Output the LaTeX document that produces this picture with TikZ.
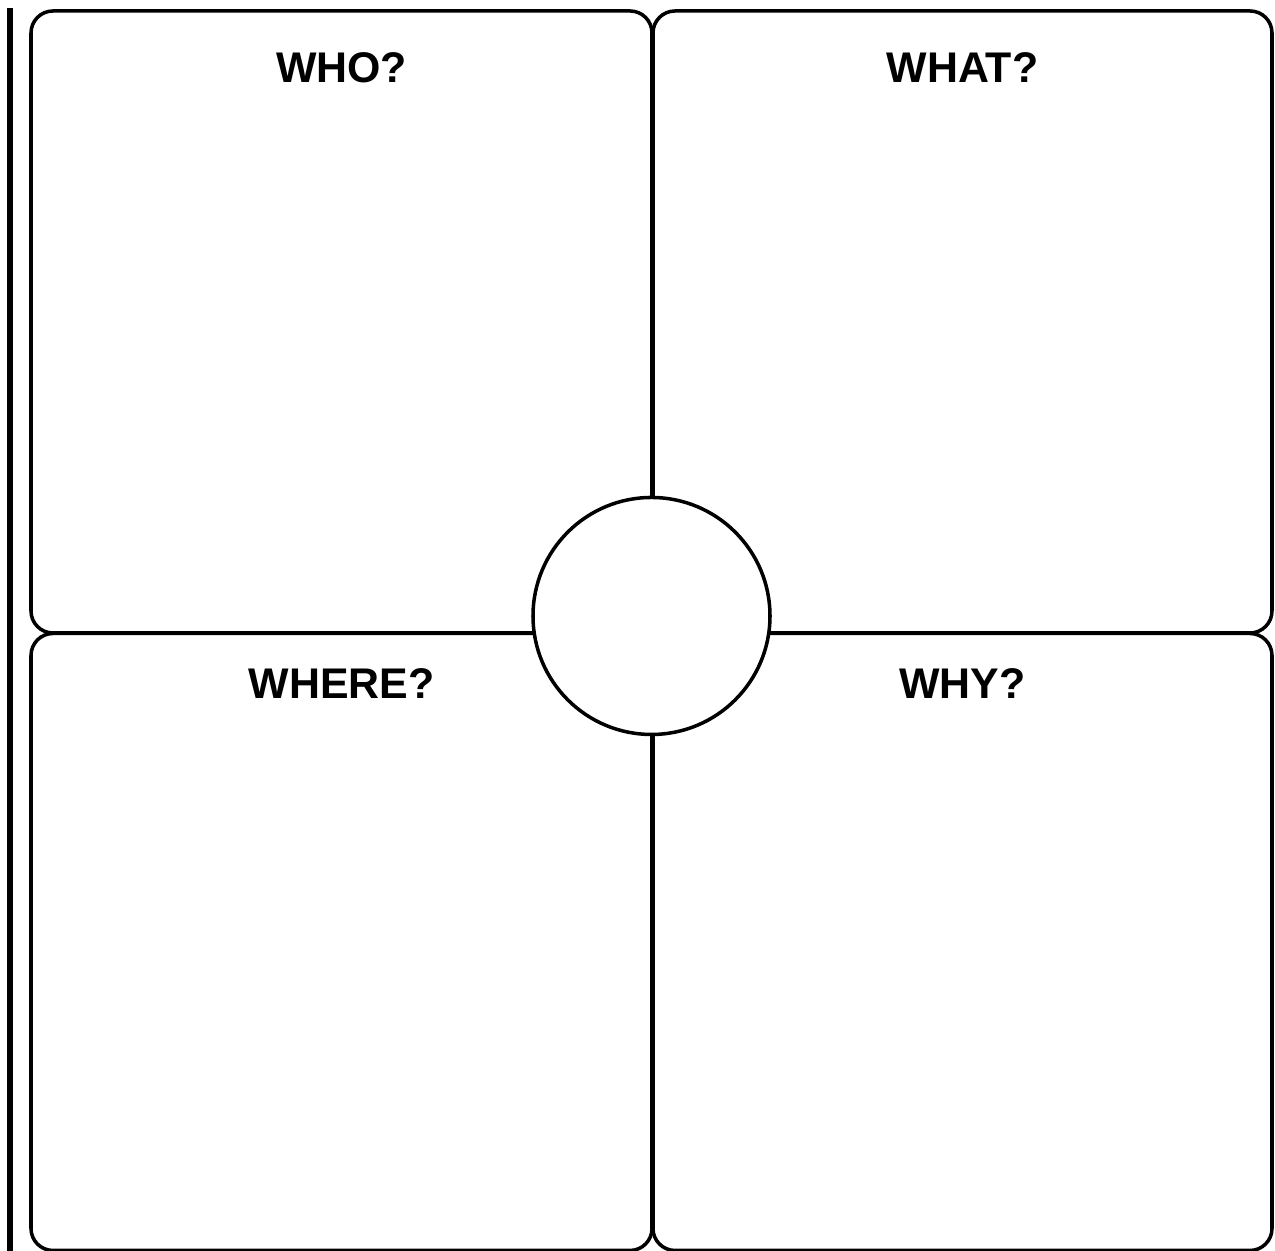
\documentclass[tikz,border=0pt]{standalone}
\usepackage{fontspec}
\setmainfont{Liberation Sans}
\usepackage{tikz}
\usetikzlibrary{positioning}

\tikzset{
    quadbox/.style={draw, line width=1pt, rounded corners=0.22cm, inner sep=0pt},
    quadtitle/.style={inner sep=0pt, font=\fontsize{12.2}{14}\selectfont\bfseries},
}

\begin{document}
\begin{tikzpicture}
    \useasboundingbox (0,0) rectangle (12.75,12.51);
    % Margin bar
    \draw[line width=1.5pt] (0.10,0) -- (0.10,12.43);

    % Boxes
    \node[quadbox, minimum width=6.21cm, minimum height=6.22cm] (who) at (3.415,9.29) {};
    \node[quadbox, minimum width=6.19cm, minimum height=6.22cm] (what) at (9.625,9.29) {};
    \node[quadbox, minimum width=6.21cm, minimum height=6.17cm] (where) at (3.415,3.09) {};
    \node[quadbox, minimum width=6.19cm, minimum height=6.17cm] (why) at (9.625,3.09) {};

    % Centre circle
    \node[circle, draw, line width=1pt, fill=white, minimum size=2.37cm, inner sep=0pt] (hub) at (6.515,6.35) {};

    % Titles
    \node[quadtitle, below=0.43cm of who.north] (whot) {WHO?};
    \node[quadtitle, below=0.43cm of what.north] (whatt) {WHAT?};
    \node[quadtitle, below=0.36cm of where.north] (wheret) {WHERE?};
    \node[quadtitle, below=0.36cm of why.north] (whyt) {WHY?};
\end{tikzpicture}
\end{document}
